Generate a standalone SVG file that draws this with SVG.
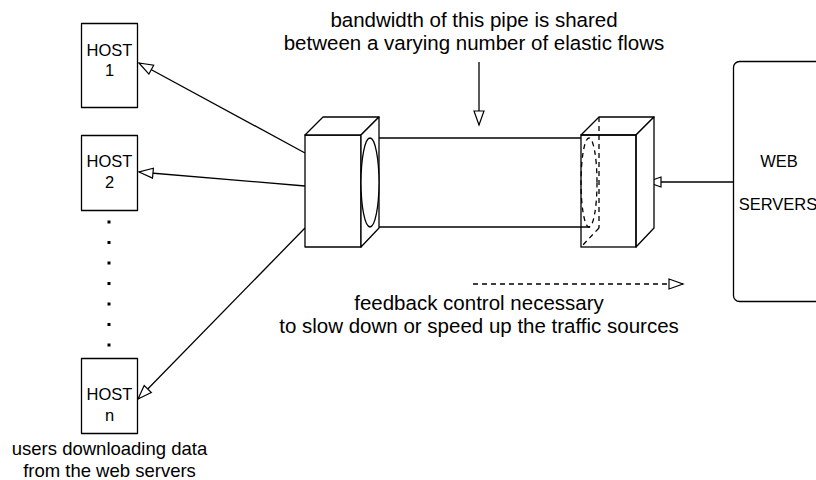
<svg xmlns="http://www.w3.org/2000/svg" width="816" height="480" viewBox="0 0 816 480">
  <style>
    .shape { fill: #fff; stroke: #000; stroke-width: 1.3; stroke-linejoin: round; }
    .edge { fill: none; stroke: #000; stroke-width: 1.3; }
    .hidden { fill: none; stroke: #000; stroke-width: 1.3; stroke-dasharray: 5 4; }
    .lbl { font-family: "Liberation Sans", Arial, sans-serif; fill: #000; text-anchor: middle; }
    .big { font-size: 20.5px; }
    .mid { font-size: 18.5px; }
    .small { font-size: 16.5px; }
  </style>
  <defs>
    <marker id="open" markerWidth="18" markerHeight="14" refX="15" refY="7" orient="auto" markerUnits="userSpaceOnUse">
      <path d="M1,2 L15,7 L1,12 Z" fill="#fff" stroke="#000" stroke-width="1.2"/>
    </marker>
  </defs>
  <rect width="816" height="480" fill="#fff"/>

  <!-- connectors -->
  <g id="connectors">
    <line class="edge" x1="305" y1="153" x2="139" y2="63" marker-end="url(#open)"/>
    <line class="edge" x1="305" y1="186" x2="139" y2="172" marker-end="url(#open)"/>
    <line class="edge" x1="305" y1="228" x2="138" y2="399" marker-end="url(#open)"/>
    <line class="edge" x1="733" y1="182" x2="647" y2="182" marker-end="url(#open)"/>
    <line class="edge" x1="479" y1="62" x2="479" y2="125" marker-end="url(#open)"/>
    <line class="hidden" x1="473" y1="284" x2="683" y2="284" marker-end="url(#open)"/>
  </g>

  <!-- hosts -->
  <g id="host1">
    <rect class="shape" x="81.5" y="23.5" width="56" height="84"/>
    <text class="lbl small" x="109.5" y="56">HOST</text>
    <text class="lbl small" x="109.5" y="76">1</text>
  </g>
  <g id="host2">
    <rect class="shape" x="81.5" y="135.5" width="56" height="75"/>
    <text class="lbl small" x="109.5" y="167">HOST</text>
    <text class="lbl small" x="109.5" y="188">2</text>
  </g>
  <g id="host-dots" fill="#000">
    <rect x="107.5" y="220.5" width="3" height="3"/>
    <rect x="107.5" y="241" width="3" height="3"/>
    <rect x="107.5" y="261.5" width="3" height="3"/>
    <rect x="107.5" y="282" width="3" height="3"/>
    <rect x="107.5" y="302.5" width="3" height="3"/>
    <rect x="107.5" y="323" width="3" height="3"/>
    <rect x="107.5" y="343.5" width="3" height="3"/>
  </g>
  <g id="hostn">
    <rect class="shape" x="81.5" y="358.5" width="56" height="75"/>
    <text class="lbl small" x="109.5" y="400">HOST</text>
    <text class="lbl small" x="109.5" y="421">n</text>
  </g>
  <g id="users-label">
    <text class="lbl mid" x="109.5" y="455">users downloading data</text>
    <text class="lbl mid" x="109.5" y="477">from the web servers</text>
  </g>

  <!-- pipe between the two routers -->
  <g id="pipe">
    <line class="edge" x1="370" y1="138" x2="581" y2="138"/>
    <line class="edge" x1="370" y1="227" x2="590" y2="227"/>
  </g>

  <!-- left router block -->
  <g id="router-left">
    <rect class="shape" x="305" y="135" width="56" height="112"/>
    <polygon class="shape" points="305,135 323,117 379,117 361,135"/>
    <polygon class="shape" points="361,135 379,117 379,228 361,247"/>
    <ellipse class="shape" cx="370" cy="182.5" rx="9" ry="44.5"/>
  </g>

  <!-- right router block, pipe end seen through it -->
  <g id="router-right">
    <polygon class="shape" points="581,135 599,117 654,117 636,135"/>
    <polygon class="shape" points="636,135 654,117 654,228 636,247"/>
    <rect class="edge" x="581" y="135" width="55" height="112"/>
    <line class="hidden" x1="599" y1="117" x2="599" y2="228"/>
    <line class="hidden" x1="599" y1="228" x2="581" y2="247"/>
    <ellipse class="hidden" cx="589" cy="182.5" rx="8" ry="44.5"/>
  </g>

  <g id="web-servers">
    <rect class="shape" x="733.5" y="61.5" width="100" height="240" rx="6"/>
    <text class="lbl small" x="779" y="167">WEB</text>
    <text class="lbl small" x="778" y="210">SERVERS</text>
  </g>

  <g id="pipe-label">
    <text class="lbl big" x="474" y="27">bandwidth of this pipe is shared</text>
    <text class="lbl big" x="474" y="50">between a varying number of elastic flows</text>
  </g>
  <g id="feedback-label">
    <text class="lbl big" x="479" y="310">feedback control necessary</text>
    <text class="lbl big" x="479" y="333">to slow down or speed up the traffic sources</text>
  </g>
</svg>
